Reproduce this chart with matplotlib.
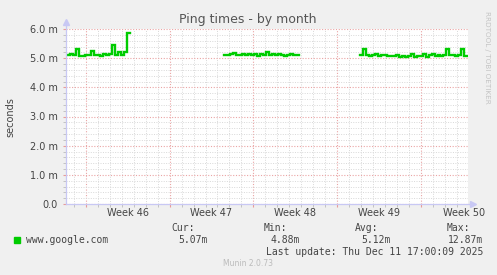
import matplotlib
matplotlib.use("Agg")
import matplotlib.pyplot as plt
import numpy as np
from matplotlib.transforms import blended_transform_factory

# ---- data (x in days since Mon 10 Nov 2025 = start of Week 46) ----
step = 0.25
seg1_start = -1.6
seg1_vals = [5.12, 5.16, 5.10, 5.30, 5.06, 5.08, 5.12, 5.10, 5.24, 5.10, 5.12,
             5.08, 5.16, 5.10, 5.14, 5.45, 5.12, 5.20, 5.12, 5.22, 5.88]
seg2_start = 11.55
seg2_vals = [5.12, 5.12, 5.14, 5.18, 5.12, 5.10, 5.14, 5.12, 5.16, 5.10, 5.14,
             5.08, 5.16, 5.12, 5.22, 5.12, 5.14, 5.10, 5.16, 5.12, 5.08, 5.12,
             5.14, 5.10, 5.10]
seg3_start = 22.9
seg3_vals = [5.12, 5.32, 5.10, 5.08, 5.12, 5.14, 5.08, 5.10, 5.12, 5.06, 5.08,
             5.06, 5.10, 5.05, 5.08, 5.04, 5.06, 5.14, 5.04, 5.08, 5.06, 5.14,
             5.04, 5.10, 5.16, 5.08, 5.10, 5.06, 5.10, 5.32, 5.12, 5.10, 5.08,
             5.10, 5.30, 5.08]
week_ticks = [0, 7, 14, 21, 28]
week_labels = ["Week 46", "Week 47", "Week 48", "Week 49", "Week 50"]
week_label_pos = [3.5, 10.5, 17.5, 24.5, 31.6]
y_ticks = [0, 1, 2, 3, 4, 5, 6]
y_labels = ["0.0", "1.0 m", "2.0 m", "3.0 m", "4.0 m", "5.0 m", "6.0 m"]
series_name = "www.google.com"
stats_names = ["Cur:", "Min:", "Avg:", "Max:"]
stats_vals = ["5.07m", "4.88m", "5.12m", "12.87m"]

xmin, xmax = -1.67, 31.95
ymin, ymax = 0.0, 6.0

W, H = 497, 275
fig = plt.figure(figsize=(W / 100, H / 100), dpi=100)
fig.patch.set_facecolor("#f0f0f0")

def px(x, y):
    return x / W, 1 - y / H

ax = fig.add_axes([66 / W, (H - 204) / H, (468 - 66) / W, 175 / H])
ax.set_facecolor("white")
ax.set_xlim(xmin, xmax)
ax.set_ylim(ymin, ymax)

# grids
ax.set_xticks(week_ticks)
ax.set_xticks(np.arange(-1, 32, 1), minor=True)
ax.set_yticks(y_ticks)
ax.set_yticks(np.arange(0, 6.01, 0.2), minor=True)
ax.grid(which="minor", color="#d8d8d8", linestyle=(0, (1, 1.5)), linewidth=0.7)
ax.grid(which="major", color="#eaa4a4", linestyle=(0, (1, 1.5)), linewidth=0.8)
ax.set_axisbelow(True)

ax.set_xticklabels([])
ax.set_yticklabels(y_labels)
ax.tick_params(axis="y", which="both", length=2, color="#bbbbbb", labelsize=7,
               labelcolor="#444444", pad=4)
ax.tick_params(axis="x", which="both", length=2, color="#bbbbbb")
ax.tick_params(axis="x", which="major", color="#e89a9a")
ax.tick_params(axis="y", which="major", color="#e89a9a")
for s in ax.spines.values():
    s.set_visible(False)

# data lines
for start, vals in [(seg1_start, seg1_vals), (seg2_start, seg2_vals), (seg3_start, seg3_vals)]:
    t = start + step * np.arange(len(vals) + 1)
    v = list(vals) + [vals[-1]]
    ax.plot(t, v, drawstyle="steps-post", color="#00cc00", linewidth=1.7,
            solid_joinstyle="miter", zorder=3)

# axes lines with arrows
axis_col = "#c8c8f4"
ax.plot([xmin, xmin], [0, 6.22], color=axis_col, lw=0.9, clip_on=False, zorder=4)
ax.plot([xmin, 32.3], [0, 0], color=axis_col, lw=0.9, clip_on=False, zorder=4)
ax.plot([xmin], [6.24], marker="^", color=axis_col, markersize=4, clip_on=False, zorder=4)
ax.plot([32.35], [0], marker=">", color=axis_col, markersize=4, clip_on=False, zorder=4)

# week labels
trans = blended_transform_factory(ax.transData, fig.transFigure)
for p, lab in zip(week_label_pos, week_labels):
    ax.text(p, 1 - 213 / H, lab, transform=trans, ha="center", va="center",
            fontsize=7, color="#444444")

# title, y label, side text
fig.text(*px(248, 19), "Ping times - by month", ha="center", va="center",
         fontsize=9, color="#555555")
fig.text(*px(10, 117), "seconds", ha="center", va="center", rotation=90,
         fontsize=7, color="#444444")
fig.text(*px(487, 57), "RRDTOOL / TOBI OETIKER", ha="center", va="center",
         rotation=270, fontsize=5.2, color="#c4c4c4")

# legend
mono = "DejaVu Sans Mono"
fig.patches.append(plt.Rectangle(px(14, 243), 6 / W, 6 / H, transform=fig.transFigure,
                                 color="#00cc00", figure=fig))
fig.text(*px(26, 240), series_name, ha="left", va="center", family=mono,
         fontsize=7, color="#444444")
label_right = [195, 287, 378, 470]
val_right = [208, 300, 391, 483]
for n, v, lr, vr in zip(stats_names, stats_vals, label_right, val_right):
    fig.text(*px(lr, 228), n, ha="right", va="center", family=mono, fontsize=7,
             color="#444444")
    fig.text(*px(vr, 240), v, ha="right", va="center", family=mono, fontsize=7,
             color="#444444")
fig.text(*px(483, 252), "Last update: Thu Dec 11 17:00:09 2025", ha="right",
         va="center", family=mono, fontsize=7, color="#444444")
fig.text(*px(248, 264), "Munin 2.0.73", ha="center", va="center", fontsize=5.5,
         color="#bbbbbb")

fig.savefig("out.png", dpi=100, facecolor=fig.get_facecolor())
